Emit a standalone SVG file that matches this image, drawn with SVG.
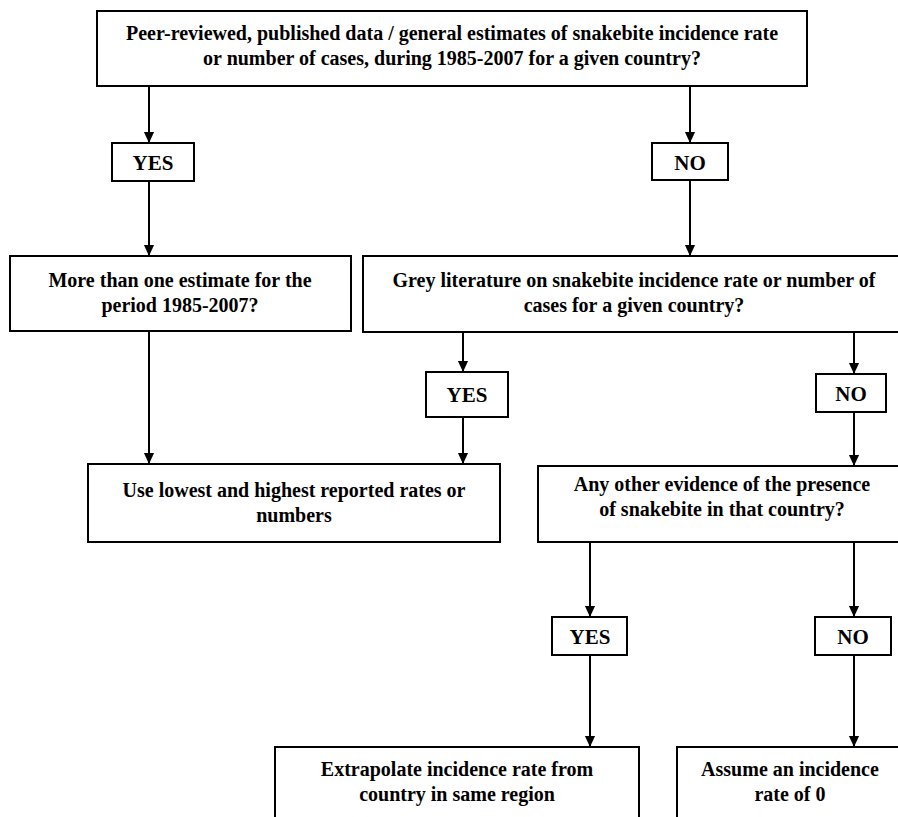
<svg xmlns="http://www.w3.org/2000/svg" width="898" height="817" viewBox="0 0 898 817">
<defs>
<marker id="ah" markerWidth="11" markerHeight="13" refX="13" refY="6" orient="auto" markerUnits="userSpaceOnUse" viewBox="0 0 13 12">
<path d="M0,0 L13,6 L0,12 Z" fill="#000"/>
</marker>
<style>
.box{fill:#fff;stroke:#000;stroke-width:2}
.t{font-family:"Liberation Serif","Times New Roman",serif;font-weight:bold;font-size:20px;fill:#000;text-anchor:middle}
.l{font-family:"Liberation Serif","Times New Roman",serif;font-weight:bold;font-size:21px;fill:#000;text-anchor:middle}
.a{stroke:#000;stroke-width:2;fill:none;marker-end:url(#ah)}
</style>
</defs>
<rect width="898" height="817" fill="#fff"/>
<g id="connectors">
<line class="a" x1="149" y1="86" x2="149" y2="143"/>
<line class="a" x1="690" y1="86" x2="690" y2="143"/>
<line class="a" x1="149" y1="181" x2="149" y2="256"/>
<line class="a" x1="690" y1="180" x2="690" y2="256"/>
<line class="a" x1="463" y1="332" x2="463" y2="372"/>
<line class="a" x1="854" y1="332" x2="854" y2="374"/>
<line class="a" x1="149" y1="331" x2="149" y2="464"/>
<line class="a" x1="463" y1="417" x2="463" y2="464"/>
<line class="a" x1="854" y1="412" x2="854" y2="466"/>
<line class="a" x1="590" y1="542" x2="590" y2="617"/>
<line class="a" x1="854" y1="542" x2="854" y2="617"/>
<line class="a" x1="590" y1="655" x2="590" y2="747"/>
<line class="a" x1="854" y1="655" x2="854" y2="747"/>
</g>
<g id="q1">
<rect class="box" x="97" y="11" width="710" height="75"/>
<text class="t" x="452" y="40">Peer-reviewed, published data / general estimates of snakebite incidence rate</text>
<text class="t" x="452" y="65">or number of cases, during 1985-2007 for a given country?</text>
</g>
<g id="yes1">
<rect class="box" x="112" y="143" width="82" height="38"/>
<text class="l" x="153" y="170">YES</text>
</g>
<g id="no1">
<rect class="box" x="652" y="143" width="76" height="37"/>
<text class="l" x="690" y="170">NO</text>
</g>
<g id="q2">
<rect class="box" x="10" y="256" width="341" height="75"/>
<text class="t" x="180" y="287">More than one estimate for the</text>
<text class="t" x="180" y="312">period 1985-2007?</text>
</g>
<g id="q3">
<rect class="box" x="363" y="256" width="545" height="76"/>
<text class="t" x="634" y="287">Grey literature on snakebite incidence rate or number of</text>
<text class="t" x="634" y="312">cases for a given country?</text>
</g>
<g id="yes2">
<rect class="box" x="426" y="372" width="82" height="45"/>
<text class="l" x="467" y="402">YES</text>
</g>
<g id="no2">
<rect class="box" x="816" y="374" width="70" height="38"/>
<text class="l" x="851" y="401">NO</text>
</g>
<g id="r1">
<rect class="box" x="88" y="464" width="412" height="78"/>
<text class="t" x="294" y="497">Use lowest and highest reported rates or</text>
<text class="t" x="294" y="522">numbers</text>
</g>
<g id="q4">
<rect class="box" x="538" y="466" width="370" height="76"/>
<text class="t" x="722" y="491">Any other evidence of the presence</text>
<text class="t" x="722" y="516">of snakebite in that country?</text>
</g>
<g id="yes3">
<rect class="box" x="552" y="617" width="75" height="38"/>
<text class="l" x="590" y="644">YES</text>
</g>
<g id="no3">
<rect class="box" x="815" y="617" width="76" height="38"/>
<text class="l" x="853" y="644">NO</text>
</g>
<g id="r2">
<rect class="box" x="275" y="747" width="364" height="80"/>
<text class="t" x="457" y="776">Extrapolate incidence rate from</text>
<text class="t" x="457" y="801">country in same region</text>
</g>
<g id="r3">
<rect class="box" x="677" y="747" width="240" height="80"/>
<text class="t" x="790" y="776">Assume an incidence</text>
<text class="t" x="790" y="801">rate of 0</text>
</g>
</svg>
